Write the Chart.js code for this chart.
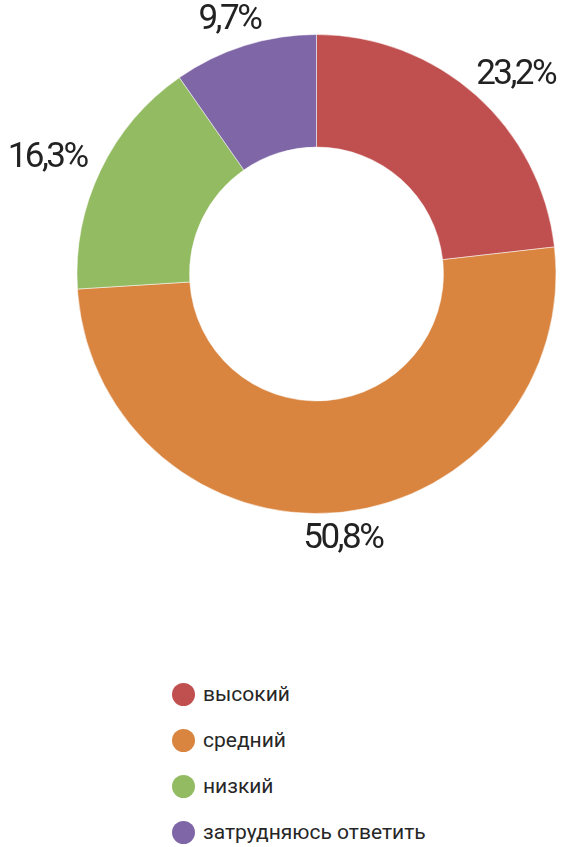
<!DOCTYPE html>
<html>
<head>
<meta charset="utf-8">
<script src="https://cdn.jsdelivr.net/npm/chart.js@4"></script>
<style>
  body { margin: 0; background: #fff; font-family: Roboto, sans-serif; }
  #wrap { position: relative; width: 567px; height: 847px; }
  #legend { position: absolute; left: 172px; top: 671px; }
  .item { display: flex; align-items: center; height: 46px; font-size: 21px; color: #262626; }
  .dot { width: 23px; height: 23px; border-radius: 50%; margin-right: 8px; }
</style>
</head>
<body>
<div id="wrap">
  <canvas id="donut" width="567" height="600"></canvas>
  <div id="legend"></div>
</div>
<script>
const labels = ["высокий", "средний", "низкий", "затрудняюсь ответить"];
const values = [23.2, 50.8, 16.3, 9.7];
const colors = ["#c0504f", "#d9843f", "#93bb62", "#7f66a6"];

// percent labels outside each slice
const outsideLabels = {
  id: "outsideLabels",
  afterDraw(chart) {
    const ctx = chart.ctx;
    const arcs = chart.getDatasetMeta(0).data;
    ctx.save();
    ctx.font = "35px Roboto";
    ctx.letterSpacing = "-2.5px";
    ctx.fillStyle = "#222";
    ctx.textAlign = "center";
    ctx.textBaseline = "middle";
    arcs.forEach((arc, i) => {
      const text = values[i].toFixed(1).replace(".", ",") + "%";
      const mid = (arc.startAngle + arc.endAngle) / 2;
      const hw = ctx.measureText(text).width / 2;
      const hh = 13;
      const x = arc.x + Math.cos(mid) * (arc.outerRadius + 20 + hw);
      const y = arc.y + Math.sin(mid) * (arc.outerRadius + 14 + hh);
      ctx.fillText(text, x, y);
    });
    ctx.restore();
  },
};

new Chart(document.getElementById("donut").getContext("2d"), {
  type: "doughnut",
  data: {
    labels: labels,
    datasets: [
      {
        data: values,
        backgroundColor: colors,
        borderColor: "rgba(255,255,255,0.5)",
        borderWidth: 1,
      },
    ],
  },
  options: {
    responsive: false,
    animation: false,
    cutout: "53%",
    layout: { padding: { left: 76, right: 10, top: 34, bottom: 86 } },
    plugins: { legend: { display: false }, tooltip: { enabled: false } },
  },
  plugins: [outsideLabels],
});

const legend = document.getElementById("legend");
labels.forEach((name, i) => {
  legend.innerHTML += `
    <div class="item"><span class="dot" style="background:${colors[i]}"></span>${name}</div>
  `;
});
</script>
</body>
</html>
